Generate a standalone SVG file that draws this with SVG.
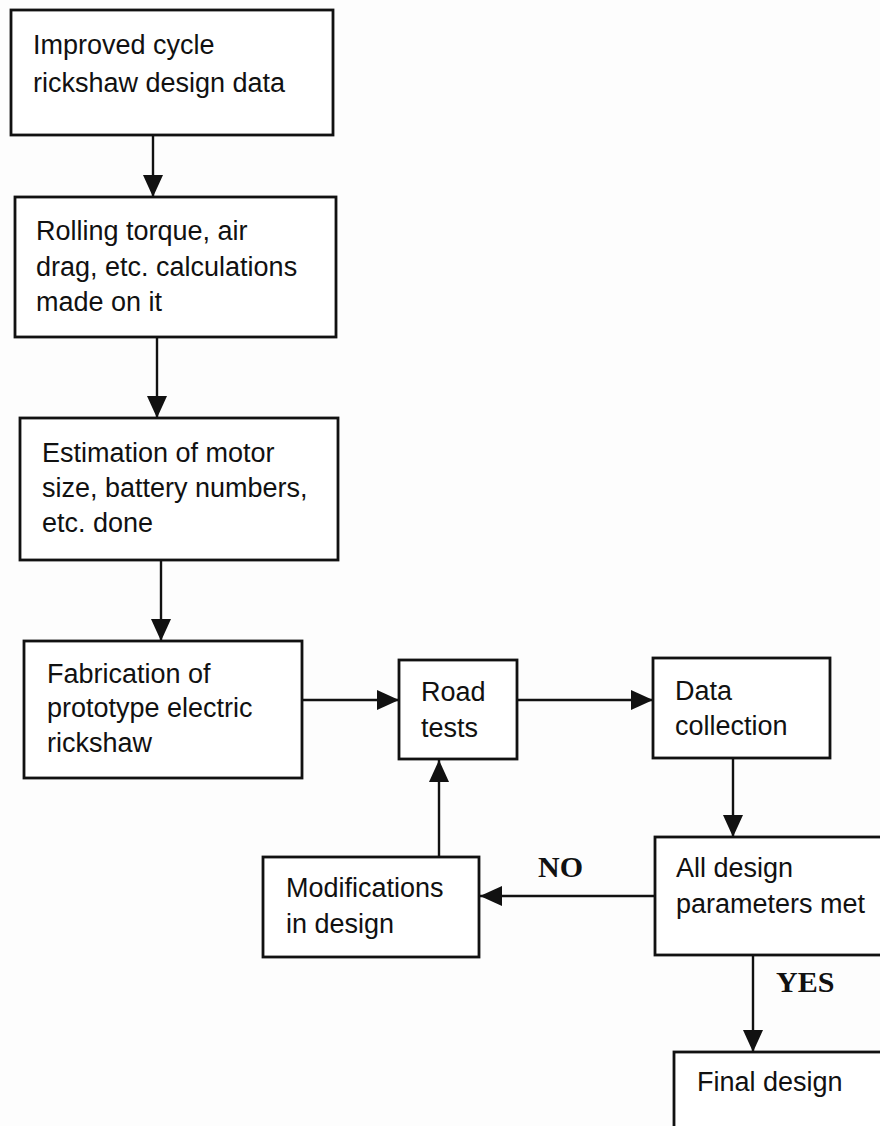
<svg xmlns="http://www.w3.org/2000/svg" width="880" height="1126" viewBox="0 0 880 1126">
<style>
.box{fill:#fff;stroke:#111;stroke-width:2.8}
.t{font-family:"Liberation Sans",Arial,sans-serif;font-size:27px;fill:#111}
.lbl{font-family:"Liberation Serif","Times New Roman",serif;font-size:30px;font-weight:bold;fill:#111}
.c{stroke:#111;stroke-width:2.4;fill:none;marker-end:url(#ah)}
</style>
<defs>
<marker id="ah" markerUnits="userSpaceOnUse" markerWidth="22" markerHeight="20" refX="22" refY="10" orient="auto">
<path d="M0,0 L22,10 L0,20 z" fill="#111"/>
</marker>
</defs>
<rect width="880" height="1126" fill="#fdfdfd"/>
<g id="connectors">
<line class="c" x1="153" y1="135" x2="153" y2="197"/>
<line class="c" x1="157" y1="337" x2="157" y2="418"/>
<line class="c" x1="161" y1="560" x2="161" y2="641"/>
<line class="c" x1="302" y1="700" x2="399" y2="700"/>
<line class="c" x1="517" y1="700" x2="653" y2="700"/>
<line class="c" x1="733" y1="758" x2="733" y2="837"/>
<line class="c" x1="655" y1="896" x2="480" y2="896"/>
<line class="c" x1="439" y1="857" x2="439" y2="760"/>
<line class="c" x1="753" y1="955" x2="753" y2="1052"/>
<text class="lbl" x="538" y="877">NO</text>
<text class="lbl" x="776" y="992">YES</text>
</g>
<g id="n1">
<rect class="box" x="11" y="10" width="322" height="125"/>
<text class="t" x="33" y="54">Improved cycle</text>
<text class="t" x="33" y="92">rickshaw design data</text>
</g>
<g id="n2">
<rect class="box" x="15" y="197" width="321" height="140"/>
<text class="t" x="36" y="240">Rolling torque, air</text>
<text class="t" x="36" y="276">drag, etc. calculations</text>
<text class="t" x="36" y="311">made on it</text>
</g>
<g id="n3">
<rect class="box" x="20" y="418" width="318" height="142"/>
<text class="t" x="42" y="462">Estimation of motor</text>
<text class="t" x="42" y="497">size, battery numbers,</text>
<text class="t" x="42" y="532">etc. done</text>
</g>
<g id="n4">
<rect class="box" x="24" y="641" width="278" height="137"/>
<text class="t" x="47" y="683">Fabrication of</text>
<text class="t" x="47" y="717">prototype electric</text>
<text class="t" x="47" y="752">rickshaw</text>
</g>
<g id="n5">
<rect class="box" x="399" y="660" width="118" height="99"/>
<text class="t" x="421" y="701">Road</text>
<text class="t" x="421" y="737">tests</text>
</g>
<g id="n6">
<rect class="box" x="653" y="658" width="177" height="100"/>
<text class="t" x="675" y="700">Data</text>
<text class="t" x="675" y="735">collection</text>
</g>
<g id="n7">
<rect class="box" x="263" y="857" width="216" height="100"/>
<text class="t" x="286" y="897">Modifications</text>
<text class="t" x="286" y="933">in design</text>
</g>
<g id="n8">
<rect class="box" x="655" y="837" width="240" height="118"/>
<text class="t" x="676" y="877">All design</text>
<text class="t" x="676" y="913">parameters met</text>
</g>
<g id="n9">
<rect class="box" x="674" y="1052" width="230" height="100"/>
<text class="t" x="697" y="1091">Final design</text>
</g>
</svg>
